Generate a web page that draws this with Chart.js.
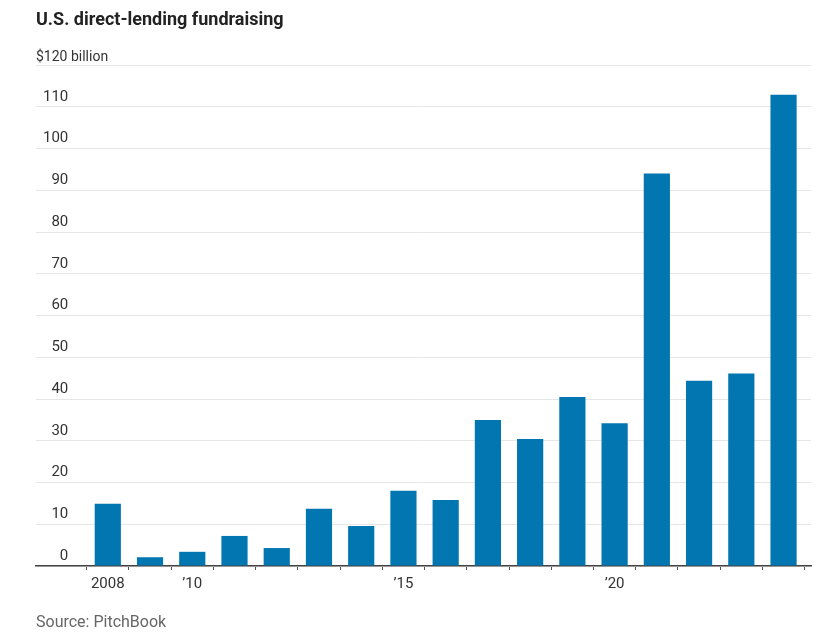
<!DOCTYPE html>
<html>
<head>
<meta charset="utf-8">
<script src="https://cdn.jsdelivr.net/npm/chart.js@4/dist/chart.umd.min.js"></script>
<style>
  html, body { margin: 0; padding: 0; background: #fff; }
  #wrap { position: relative; width: 826px; height: 642px; }
</style>
</head>
<body>
<div id="wrap"><canvas id="chart" width="826" height="642"></canvas></div>
<script>
// Data (billions of dollars)
const years = [2008, 2009, 2010, 2011, 2012, 2013, 2014, 2015, 2016,
               2017, 2018, 2019, 2020, 2021, 2022, 2023, 2024];
const fundraising = [14.9, 2.1, 3.4, 7.2, 4.3, 13.7, 9.6, 18.0, 15.8,
                     35.0, 30.4, 40.5, 34.2, 94.0, 44.4, 46.1, 112.9];
const xTickLabels = ['2008', '', '\u201910', '', '', '', '', '\u201915', '',
                     '', '', '', '\u201920', '', '', '', ''];
const yTicks = [0, 10, 20, 30, 40, 50, 60, 70, 80, 90, 100, 110, 120];

const labelFont = 'Roboto, "Noto Sans", sans-serif';

// Title, unit label and source note
const textPlugin = {
    id: 'wsjText',
    afterDraw(chart) {
        const ctx = chart.ctx;
        const y = chart.scales.y;
        ctx.save();
        ctx.textBaseline = 'alphabetic';
        ctx.textAlign = 'left';

        ctx.fillStyle = '#222';
        ctx.font = 'bold 18px ' + labelFont;
        ctx.fillText('U.S. direct-lending fundraising', 36, 25);

        ctx.fillStyle = '#333';
        ctx.font = '14px ' + labelFont;
        ctx.fillText('$120 billion', 36, y.getPixelForValue(120) - 4);

        ctx.fillStyle = '#666';
        ctx.font = '16px ' + labelFont;
        ctx.fillText('Source: PitchBook', 36, 627);
        ctx.restore();
    }
};

new Chart(document.getElementById('chart'), {
    type: 'bar',
    data: {
        datasets: [{
            data: years.map((yr, i) => ({ x: yr, y: fundraising[i] })),
            backgroundColor: '#0276b1',
            borderWidth: 0,
            barPercentage: 0.62,
            categoryPercentage: 1.0
        }]
    },
    options: {
        responsive: false,
        animation: false,
        devicePixelRatio: 1,
        layout: {
            padding: { left: 36, right: 15, top: 65, bottom: 46 }
        },
        plugins: {
            legend: { display: false },
            tooltip: { enabled: false }
        },
        scales: {
            x: {
                type: 'linear',
                offset: false,
                min: 2006.3,
                max: 2024.65,
                afterBuildTicks: (scale) => {
                    scale.ticks = years.map(v => ({ value: v }));
                },
                afterFit: (scale) => { scale.height = 30; },
                grid: {
                    drawOnChartArea: false,
                    drawTicks: true,
                    tickLength: 4,
                    color: '#555'
                },
                border: { display: true, color: '#444', width: 1.5 },
                ticks: {
                    autoSkip: false,
                    maxRotation: 0,
                    padding: 5,
                    color: '#333',
                    font: { family: labelFont, size: 15 },
                    callback: (value) => xTickLabels[years.indexOf(value)] || ''
                }
            },
            y: {
                min: 0,
                max: 120,
                afterBuildTicks: (scale) => {
                    scale.ticks = yTicks.map(v => ({ value: v }));
                },
                afterFit: (scale) => { scale.width = 0; },
                grid: {
                    color: '#e6e6e6',
                    lineWidth: 1,
                    drawTicks: false
                },
                border: { display: false },
                ticks: {
                    mirror: true,
                    crossAlign: 'far',
                    padding: 7,
                    labelOffset: -10,
                    color: '#333',
                    font: { family: labelFont, size: 15 },
                    callback: (value) => value === 120 ? '' : String(value)
                }
            }
        }
    },
    plugins: [textPlugin]
});
</script>
</body>
</html>
